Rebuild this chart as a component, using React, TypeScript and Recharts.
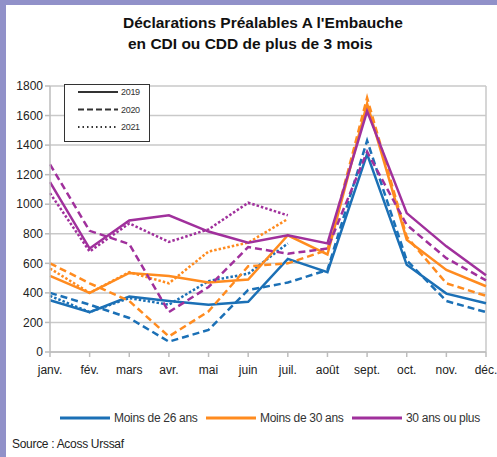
import React from 'react';
import { LineChart, Line, XAxis, YAxis, CartesianGrid, ReferenceLine } from 'recharts';

const months = ['janv.', 'fév.', 'mars', 'avr.', 'mai', 'juin', 'juil.', 'août', 'sept.', 'oct.', 'nov.', 'déc.'];
const yTicks = [0, 200, 400, 600, 800, 1000, 1200, 1400, 1600, 1800];

// Moins de 26 ans
const under26_2019 = [350, 270, 375, 345, 320, 340, 630, 540, 1340, 590, 395, 330];
const under26_2020 = [400, 320, 230, 70, 150, 420, 470, 555, 1430, 620, 345, 270];
const under26_2021 = [380, 270, 365, 320, 480, 530, 735];

// Moins de 30 ans
const under30_2019 = [515, 400, 535, 515, 470, 490, 790, 660, 1680, 760, 555, 445];
const under30_2020 = [600, 465, 345, 105, 275, 580, 600, 690, 1720, 780, 465, 380];
const under30_2021 = [565, 400, 540, 465, 680, 740, 900];

// 30 ans ou plus
const over30_2019 = [1150, 700, 890, 925, 815, 740, 790, 735, 1630, 940, 715, 520];
const over30_2020 = [1270, 820, 730, 270, 440, 710, 665, 700, 1355, 860, 635, 485];
const over30_2021 = [1075, 680, 870, 745, 830, 1010, 925];

const BLUE = '#1b70b6';
const ORANGE = '#ff8b1f';
const PURPLE = '#a0309c';
const FONT = '"Liberation Sans", Arial, sans-serif';

const data = months.map((m, i) => ({
    month: m,
    b19: under26_2019[i], b20: under26_2020[i], b21: under26_2021[i],
    o19: under30_2019[i], o20: under30_2020[i], o21: under30_2021[i],
    p19: over30_2019[i], p20: over30_2020[i], p21: over30_2021[i],
}));

const DASH = '7 4';
const DOT = '2.5 2';

const lines = [
    { key: 'b19', color: BLUE, dash: undefined },
    { key: 'b20', color: BLUE, dash: DASH },
    { key: 'b21', color: BLUE, dash: DOT },
    { key: 'o19', color: ORANGE, dash: undefined },
    { key: 'o20', color: ORANGE, dash: DASH },
    { key: 'o21', color: ORANGE, dash: DOT },
    { key: 'p19', color: PURPLE, dash: undefined },
    { key: 'p20', color: PURPLE, dash: DASH },
    { key: 'p21', color: PURPLE, dash: DOT },
];

const yearKeys = [
    { label: '2019', dash: undefined },
    { label: '2020', dash: '6 3' },
    { label: '2021', dash: '1.5 3' },
];

const ageKeys = [
    { label: 'Moins de 26 ans', color: BLUE, x: 60 },
    { label: 'Moins de 30 ans', color: ORANGE, x: 206 },
    { label: '30 ans ou plus', color: PURPLE, x: 352 },
];

export default function App() {
    return (
        <div style={{ position: 'absolute', left: 0, top: 0, width: 497, height: 457, background: '#fff', overflow: 'hidden', fontFamily: FONT }}>
            <div style={{ position: 'absolute', left: 0, top: 0, width: 497, height: 5, background: '#9191c9' }} />
            <div style={{ position: 'absolute', left: 0, top: 0, width: 6, height: 457, background: '#9191c9' }} />

            <div style={{ position: 'absolute', left: 123, top: 13, fontSize: 15.5, fontWeight: 700, color: '#111', whiteSpace: 'nowrap', lineHeight: '20px' }}>
                Déclarations Préalables A l'Embauche
            </div>
            <div style={{ position: 'absolute', left: 128, top: 34, fontSize: 15.5, fontWeight: 700, color: '#111', whiteSpace: 'nowrap', lineHeight: '20px' }}>
                en CDI ou CDD de plus de 3 mois
            </div>

            <div style={{ position: 'absolute', left: 0, top: 0 }}>
                <LineChart width={497} height={457} data={data} margin={{ top: 86, right: 11, bottom: 80, left: 0 }}>
                    <CartesianGrid vertical={false} stroke="#c9c9c9" strokeWidth={1.5} />
                    <ReferenceLine x="déc." stroke="#c9c9c9" strokeWidth={1.5} />
                    <XAxis
                        dataKey="month"
                        axisLine={{ stroke: '#bdbdbd', strokeWidth: 1.5 }}
                        tickLine={{ stroke: '#bdbdbd', strokeWidth: 1.5 }}
                        tickSize={5}
                        tickMargin={8}
                        height={25}
                        interval={0}
                        tick={{ fontSize: 12, fill: '#222', fontFamily: FONT }}
                    />
                    <YAxis
                        width={50}
                        domain={[0, 1800]}
                        ticks={yTicks}
                        axisLine={{ stroke: '#bdbdbd', strokeWidth: 1.5 }}
                        tickLine={{ stroke: '#bdbdbd', strokeWidth: 1.5 }}
                        tickSize={5}
                        tick={{ fontSize: 12, fill: '#222', fontFamily: FONT }}
                    />
                    {lines.map((l) => (
                        <Line
                            key={l.key}
                            dataKey={l.key}
                            stroke={l.color}
                            strokeWidth={2.5}
                            strokeDasharray={l.dash}
                            dot={false}
                            activeDot={false}
                            isAnimationActive={false}
                        />
                    ))}
                </LineChart>
            </div>

            {/* year key box */}
            <div style={{ position: 'absolute', left: 64, top: 84, width: 84, height: 56, border: '1px solid #333', background: '#fff' }}>
                <svg width={84} height={56} style={{ position: 'absolute', left: 0, top: 0 }}>
                    {yearKeys.map((k, i) => (
                        <g key={k.label}>
                            <line x1={13} x2={53} y1={7 + i * 17.5} y2={7 + i * 17.5} stroke="#333" strokeWidth={2} strokeDasharray={k.dash} />
                            <text x={56} y={10 + i * 17.5} fontSize={9} fill="#333" fontFamily={FONT} letterSpacing={-0.3}>{k.label}</text>
                        </g>
                    ))}
                </svg>
            </div>

            {/* age key */}
            <svg width={497} height={30} style={{ position: 'absolute', left: 0, top: 404 }}>
                {ageKeys.map((k) => (
                    <g key={k.label}>
                        <line x1={k.x} x2={k.x + 50} y1={14} y2={14} stroke={k.color} strokeWidth={3} />
                        <text x={k.x + 54} y={18} fontSize={12} fill="#333" fontFamily={FONT} letterSpacing={-0.3}>{k.label}</text>
                    </g>
                ))}
            </svg>

            <div style={{ position: 'absolute', left: 12, top: 437, fontSize: 12, color: '#222', whiteSpace: 'nowrap', letterSpacing: -0.3 }}>
                Source : Acoss Urssaf
            </div>
        </div>
    );
}
